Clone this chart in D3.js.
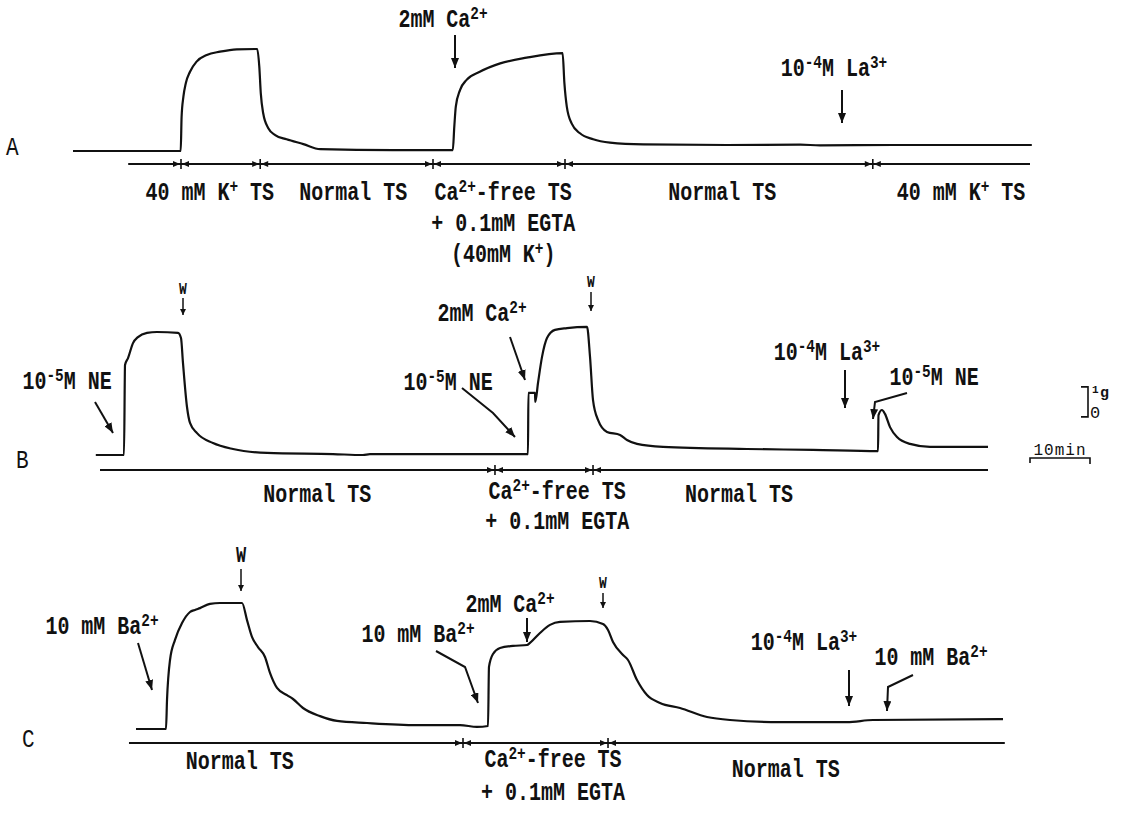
<!DOCTYPE html>
<html>
<head>
<meta charset="utf-8">
<title>Tension traces A B C</title>
<script src="https://d3js.org/d3.v7.min.js"></script>
<style>
body{margin:0;background:#fff;}
svg text{font-family:"Liberation Mono","DejaVu Sans Mono",monospace;font-weight:bold;fill:#111;}
</style>
</head>
<body>
<svg id="chart" width="1124" height="815"></svg>
<script>
// time in min, tension in g
const traceA_t = [0.5,18.45,18.6,18.9,19.3,20.0,21.1,22.8,25.0,27.8,31.2,31.55,31.8,32.2,33.05,34.2,36.1,38.9,41.7,53.8,63.8,64.05,64.3,65.0,66.1,68.3,71.7,76.1,82.1,82.4,82.8,83.6,85.0,87.2,90.0,95.55,109.45,121.7,125.0,137.2,160.3];
const traceA_g = [0,0,1.14,1.81,2.26,2.64,2.98,3.2,3.31,3.39,3.4,2.81,1.92,1.26,0.76,0.53,0.39,0.23,0.06,0.03,0.03,0.81,1.48,2.03,2.37,2.64,2.92,3.11,3.26,2.26,1.48,0.92,0.59,0.39,0.28,0.22,0.2,0.21,0.19,0.2,0.2];

const traceB_t = [4.3,9.0,9.17,9.67,10.5,11.33,12.83,14.5,18.0,18.5,18.83,19.5,20.0,21.17,23.83,27.17,32.83,43.83,48.83,50.0,76.33,76.4,77.5,77.55,78.0,78.67,79.5,80.83,82.83,86.17,86.67,87.17,88.0,89.5,91.67,92.83,94.5,98.83,112.83,123.83,134.67,134.75,135.33,135.83,136.67,137.83,140.0,143.33,153.0];
const traceB_g = [0,0,3.0,3.23,3.73,3.93,4.07,4.1,4.07,3.9,3.07,1.6,1.07,0.73,0.4,0.2,0.07,0.03,0,0.03,0.03,2.07,2.07,1.77,2.4,3.27,3.9,4.17,4.23,4.27,3.27,1.83,1.17,0.77,0.67,0.5,0.37,0.27,0.2,0.17,0.13,1.33,1.5,1.37,0.93,0.6,0.37,0.27,0.27];

const traceC_t = [11,16,16.17,16.67,17.5,18.67,20,20.83,21.67,23.33,25,28.67,29.5,30.33,31.33,32.5,33.33,34.5,36.17,37.17,38.83,41.67,44.5,49.5,57.83,65,67.83,69.67,69.83,70.5,71.67,73.83,76.17,76.67,78.33,80,81.67,86.67,88.83,89.67,90.5,92.17,93,94.5,96.17,98.33,101.67,106.17,110,118.33,129.5,133.83,155.5];
const traceC_g = [0,0,0.97,2.3,2.97,3.53,3.9,3.97,4.03,4.17,4.2,4.2,3.63,3.07,2.73,2.4,1.87,1.37,1.13,1.0,0.7,0.43,0.27,0.2,0.13,0.13,0.07,0.1,2.07,2.5,2.7,2.77,2.8,2.87,3.2,3.47,3.57,3.6,3.5,3.3,2.9,2.47,2.3,1.63,1.13,0.87,0.7,0.4,0.3,0.23,0.23,0.3,0.33];

// solution bars: start, boundaries, end (min)
const barA = [9.7, 18.5, 31.7, 60.5, 82.5, 133.8, 160];
const barB = [5, 70.83, 87.17, 153];
const barC = [9.83, 65.5, 89.67, 155.8];

// solution names and the time they are centred on
const solA = ["40 mM K^{+} TS", "Normal TS", "Ca^{2+}-free TS|+ 0.1mM EGTA|(40mM K^{+})", "Normal TS", "40 mM K^{+} TS"];
const solA_t = [23.3, 47.2, 72.2, 108.7, 148.5];
const solB = ["Normal TS", "Ca^{2+}-free TS|+ 0.1mM EGTA", "Normal TS"];
const solB_t = [41.2, 81.2, 111.5];
const solC = ["Normal TS", "Ca^{2+}-free TS|+ 0.1mM EGTA", "Normal TS"];
const solC_t = [28.3, 80.5, 119.3];

const svg = d3.select("#chart");
const x = d3.scaleLinear().domain([0, 160]).range([70, 1030]);

const defs = svg.append("defs");
defs.append("marker").attr("id","big").attr("viewBox","0 0 10 8")
  .attr("refX",10).attr("refY",4).attr("markerWidth",10).attr("markerHeight",8)
  .attr("markerUnits","userSpaceOnUse").attr("orient","auto")
  .append("path").attr("d","M0,0L10,4L0,8Z").attr("fill","#111");
defs.append("marker").attr("id","small").attr("viewBox","0 0 6 6")
  .attr("refX",6).attr("refY",3).attr("markerWidth",6).attr("markerHeight",6)
  .attr("markerUnits","userSpaceOnUse").attr("orient","auto")
  .append("path").attr("d","M0,0L6,3L0,6Z").attr("fill","#111");

function richText(sel, str, px, py, size, anchor) {
  const t = sel.append("text")
    .attr("transform", "translate(" + px + "," + py + ") scale(1,1.25)")
    .attr("text-anchor", anchor || "middle")
    .style("font-size", size + "px");
  const parts = str.split(/(\^\{[^}]*\})/).filter(s => s.length);
  const lift = size * 0.32;
  let up = false;
  parts.forEach(p => {
    if (p.startsWith("^{")) {
      t.append("tspan").text(p.slice(2, -1)).style("font-size", (size * 0.72) + "px").attr("dy", -lift);
      up = true;
    } else {
      const ts = t.append("tspan").text(p);
      if (up) { ts.attr("dy", lift); up = false; }
    }
  });
  return t;
}

const panels = [
  {id:"A", t:traceA_t, g:traceA_g, bar:barA, sol:solA, solT:solA_t, base:151, barY:164, textY:[200,200,200,200,200], lineGap:31, labX:6, labY:155},
  {id:"B", t:traceB_t, g:traceB_g, bar:barB, sol:solB, solT:solB_t, base:455, barY:470, textY:[502,499,502], lineGap:30, labX:16, labY:468},
  {id:"C", t:traceC_t, g:traceC_g, bar:barC, sol:solC, solT:solC_t, base:729, barY:743, textY:[769,767,777], lineGap:33, labX:22, labY:747}
];

panels.forEach(p => {
  const y = d3.scaleLinear().domain([0, 1]).range([p.base, p.base - 30]);
  p.y = y;
  const g = svg.append("g").attr("class", "panel-" + p.id);
  const pts = p.t.map((t, i) => ({t: t, g: p.g[i]}));
  g.append("path").datum(pts)
    .attr("fill", "none").attr("stroke", "#111").attr("stroke-width", 2.2)
    .attr("stroke-linejoin", "round")
    .attr("d", d3.line().x(d => x(d.t)).y(d => y(d.g)).curve(d3.curveMonotoneX));

  // solution time bar
  const bx0 = x(p.bar[0]), bx1 = x(p.bar[p.bar.length - 1]);
  g.append("line").attr("x1", bx0).attr("x2", bx1).attr("y1", p.barY).attr("y2", p.barY)
    .attr("stroke", "#111").attr("stroke-width", 1.8);
  p.bar.slice(1, -1).forEach(b => {
    const bx = x(b);
    g.append("line").attr("x1", bx).attr("x2", bx).attr("y1", p.barY - 5).attr("y2", p.barY + 5)
      .attr("stroke", "#111").attr("stroke-width", 1.6);
    g.append("path").attr("fill", "#111")
      .attr("d", `M${bx-1},${p.barY}L${bx-8},${p.barY-3}L${bx-8},${p.barY+3}Z`);
    g.append("path").attr("fill", "#111")
      .attr("d", `M${bx+1},${p.barY}L${bx+8},${p.barY-3}L${bx+8},${p.barY+3}Z`);
  });

  p.sol.forEach((s, i) => {
    s.split("|").forEach((line, k) => {
      richText(g, line, x(p.solT[i]), p.textY[i] + k * p.lineGap, 20);
    });
  });

  richText(g, p.id, p.labX, p.labY, 21, "start").style("font-weight", "normal");
});

// annotations (text position, arrow path)
const notes = [
  {txt:"2mM Ca^{2+}", x:443, y:27, s:20, arrow:[[455,35],[455,68]], head:"big"},
  {txt:"10^{-4}M La^{3+}", x:834, y:76, s:20, arrow:[[842,90],[842,123]], head:"big"},
  {txt:"W", x:183, y:294, s:13, arrow:[[183,298],[183,315]], head:"small"},
  {txt:"10^{-5}M NE", x:67, y:389, s:20, arrow:[[95,402],[113,433]], head:"big"},
  {txt:"2mM Ca^{2+}", x:482, y:321, s:20, arrow:[[510,337],[525,380]], head:"big"},
  {txt:"10^{-5}M NE", x:448, y:390, s:20, arrow:[[462,388],[493,413],[515,437]], head:"big"},
  {txt:"W", x:591, y:287, s:13, arrow:[[591,292],[591,311]], head:"small"},
  {txt:"10^{-4}M La^{3+}", x:827, y:360, s:20, arrow:[[845,370],[845,408]], head:"big"},
  {txt:"10^{-5}M NE", x:934, y:385, s:20, arrow:[[907,393],[875,402],[873,419]], head:"big"},
  {txt:"W", x:241, y:562, s:17, arrow:[[241,569],[241,591]], head:"small"},
  {txt:"10 mM Ba^{2+}", x:102, y:634, s:20, arrow:[[138,643],[152,690]], head:"big"},
  {txt:"2mM Ca^{2+}", x:510, y:612, s:20, arrow:[[527,618],[527,642]], head:"big"},
  {txt:"10 mM Ba^{2+}", x:418, y:642, s:20, arrow:[[436,651],[465,667],[478,703]], head:"big"},
  {txt:"W", x:603, y:588, s:13, arrow:[[603,593],[603,608]], head:"small"},
  {txt:"10^{-4}M La^{3+}", x:804, y:650, s:20, arrow:[[849,670],[849,706]], head:"big"},
  {txt:"10 mM Ba^{2+}", x:931, y:665, s:20, arrow:[[913,675],[888,687],[887,711]], head:"big"}
];
const ann = svg.append("g").attr("class", "notes");
notes.forEach(n => {
  richText(ann, n.txt, n.x, n.y, n.s);
  ann.append("path").attr("fill", "none").attr("stroke", "#111")
    .attr("stroke-width", n.head === "big" ? 2 : 1.5)
    .attr("d", d3.line()(n.arrow))
    .attr("marker-end", "url(#" + n.head + ")");
});

// scale bars: 1 g and 10 min
const yB = panels[1].y;
const sb = svg.append("g").attr("class", "scalebar");
const gx = 1088, g0 = 1.27;
sb.append("path").attr("fill", "none").attr("stroke", "#111").attr("stroke-width", 1.6)
  .attr("d", `M${gx-7},${yB(g0+1)}H${gx}V${yB(g0)}H${gx-7}`);
sb.append("text").attr("x", gx + 4).attr("y", yB(g0+1) + 6).style("font-size", "11px").text("1");
sb.append("text").attr("x", gx + 12).attr("y", yB(g0+1) + 10).style("font-size", "15px").text("g");
sb.append("text").attr("x", gx + 2).attr("y", yB(g0) + 1).style("font-size", "17px").style("font-weight", "normal").text("0");
const m0 = x(160), m1 = x(170);
sb.append("path").attr("fill", "none").attr("stroke", "#111").attr("stroke-width", 1.6)
  .attr("d", `M${m0},${yB(-0.27)}V${yB(-0.1)}H${m1}V${yB(-0.3)}`);
sb.append("text").attr("x", (m0 + m1) / 2).attr("y", yB(-0.1) - 3)
  .attr("text-anchor", "middle").style("font-size", "16px").style("font-weight", "normal")
  .style("letter-spacing", "1px").text("10min");
</script>
</body>
</html>
